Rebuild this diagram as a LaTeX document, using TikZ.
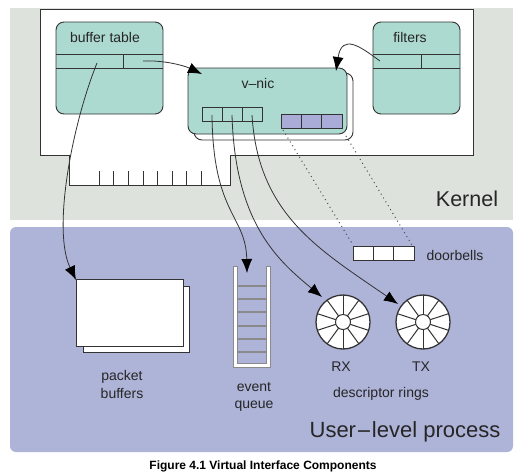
\documentclass[tikz,border=0pt]{standalone}
\usepackage{fontspec}
\setmainfont{Liberation Sans}
\usetikzlibrary{arrows.meta,calc}
\definecolor{kgrey}{HTML}{DEE2DD}
\definecolor{ublue}{HTML}{AEB3D8}
\definecolor{teal}{HTML}{ACD9D0}
\definecolor{slotblue}{HTML}{A9ACD7}
\definecolor{ink}{HTML}{333333}
\definecolor{rail}{HTML}{8A8A8A}
\tikzset{
  outl/.style={draw=ink, line width=0.9pt},
  tealbox/.style={outl, fill=teal, rounded corners=8pt},
  lbl/.style={font=\fontsize{14}{16}\selectfont, text=black!85, inner sep=0pt},
  big/.style={font=\fontsize{21.5}{24}\selectfont, text=black!85, inner sep=0pt},
  conn/.style={draw=black!80, line width=0.8pt, -{Latex[length=14pt,width=11pt,color=black]}},
  dots/.style={draw=black!70, line width=1pt, dash pattern=on 1pt off 3.5pt},
  slot/.style={outl, line width=0.8pt},
}
\newcommand{\dring}[2]{%
  \fill[white] (#1,#2) circle (27);
  \foreach \a in {90,126,...,414} {
    \draw[ink, line width=1pt] ($(#1,#2)+(\a:7.5)$) -- ($(#1,#2)+(\a:27)$);
  }
  \draw[ink, line width=1.3pt] (#1,#2) circle (27);
  \draw[ink, line width=1pt, fill=white] (#1,#2) circle (7.5);
}
\begin{document}
\begin{tikzpicture}[x=1pt,y=-1pt]
\useasboundingbox (0,0) rectangle (521,475);
% regions
\fill[kgrey] (10,8) rectangle (513,220);
\fill[ublue, rounded corners=6pt] (10,227) rectangle (513,452);
% card
\draw[outl, fill=white] (40,9) -- (473,9) -- (473,155) -- (230,155) -- (230,185) -- (69,185) -- (69,155) -- (40,155) -- cycle;
\foreach \x in {99,113.5,128,143,157.5,172,186.5,201} \draw[ink, line width=0.8pt] (\x,171) -- (\x,185);
% buffer table
\draw[tealbox] (56,22) rectangle (163,114);
\draw[outl] (56,54) -- (163,54) (56,68) -- (163,68) (123,54) -- (123,68);
\node[lbl] (bt) at (105,37) {buffer table};
% filters
\draw[tealbox] (373,22) rectangle (460,114);
\draw[outl] (373,54) -- (460,54) (373,68) -- (460,68) (421,54) -- (421,68);
\node[lbl] (filt) at (410,37) {filters};
% v-nic
\draw[outl, fill=white, rounded corners=8pt] (194,73) rectangle (353,140);
\draw[tealbox] (188,68) rectangle (347,134);
\node[lbl] (vnic) at (258,83) {v--nic};
\draw[slot, fill=teal] (202,107) rectangle (262,121);
\draw[slot] (222,107) -- (222,121) (242,107) -- (242,121);
\draw[slot, fill=slotblue] (281,114) rectangle (342,128);
\draw[slot] (301,114) -- (301,128) (321,114) -- (321,128);
% doorbells
\draw[slot, fill=white] (353,246) rectangle (414,260);
\draw[slot] (373,246) -- (373,260) (393,246) -- (393,260);
\node[lbl] (db) at (455,255) {doorbells};
% packet buffers
\draw[outl, fill=white] (83,286) rectangle (189,352);
\draw[outl, fill=white] (76,279) rectangle (183,346);
\node[lbl, align=center] (pb) at (122,384) {packet\\[2pt]buffers};
% event queue
\draw[rail, line width=0.8pt, fill=white] (233,266) -- (233,367) -- (270,367) -- (270,266) -- (266,266) -- (266,363) -- (237,363) -- (237,266) -- cycle;
\foreach \y in {286,299,312,326,339,352} \draw[rail, line width=1.3pt] (237,\y) -- (266,\y);
\node[lbl] (ev) at (254,387) {event};
\node[lbl] (qu) at (254,406) {queue};
% rings
\dring{343}{322}
\dring{423}{322}
\node[lbl] (rx) at (341,367) {RX};
\node[lbl] (tx) at (421,367) {TX};
\node[lbl] (dr) at (381,394) {descriptor rings};
% region labels
\node[big] (kern) at (467,199) {Kernel};
\node[big, font=\fontsize{22}{24}\selectfont] (ulp) at (405,432) {User{\fontspec{DejaVu Sans}\fontsize{19}{24}\selectfont −}level process};
\node[inner sep=0pt, font=\bfseries\fontsize{12}{14}\selectfont] (cap) at (263,466) {Figure 4.1 Virtual Interface Components};
% connector end points
\coordinate (btR) at (143,61);
\coordinate (btL) at (97,63);
\coordinate (vnicTL) at (202,74);
\coordinate (vnicTR) at (336,71);
\coordinate (fl) at (380,61);
\coordinate (pbTL) at (76,280);
\coordinate (s1) at (212,115);
\coordinate (s2) at (232,115);
\coordinate (s3) at (252,115);
\coordinate (eqT) at (247,273);
\coordinate (rxE) at (322,297);
\coordinate (txE) at (398,304);
\coordinate (d1a) at (283,130);
\coordinate (d1b) at (353,245);
\coordinate (d2a) at (346,136);
\coordinate (d2b) at (412,245);
% dotted
\draw[dots] (d1a) -- (d1b);
\draw[dots] (d2a) -- (d2b);
% arrows
\draw[conn] (btR) .. controls (165,60) and (185,66) .. (vnicTL);
\draw[conn] (btL) .. controls (72,125) and (52,230) .. (pbTL);
\draw[conn] (fl) .. controls (362,48) and (342,32) .. (vnicTR);
\draw[conn] (s1) .. controls (213,215) and (246,215) .. (eqT);
\draw[conn] (s2) .. controls (235,225) and (280,262) .. (rxE);
\draw[conn] (s3) .. controls (258,215) and (320,250) .. (txE);
\end{tikzpicture}
\end{document}
